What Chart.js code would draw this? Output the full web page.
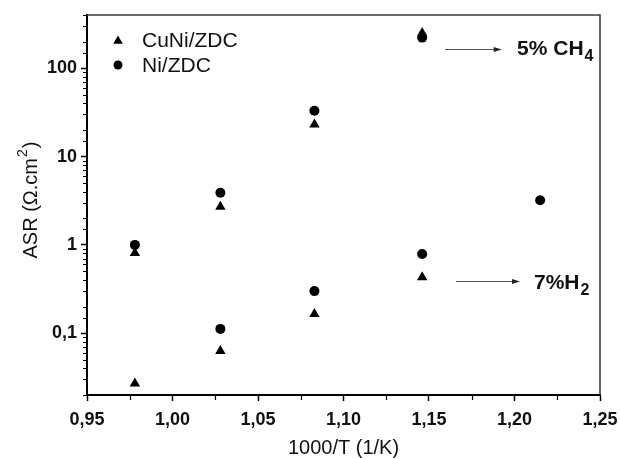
<!DOCTYPE html>
<html>
<head>
<meta charset="utf-8">
<script src="https://cdn.jsdelivr.net/npm/chart.js@4"></script>
<style>
  html, body { margin: 0; padding: 0; background: #fff; }
  canvas { display: block; }
</style>
</head>
<body>
<canvas id="asrChart" width="620" height="459"></canvas>
<script>
// --- données ---
const seriesNames = ['CuNi/ZDC', 'Ni/ZDC'];

// 5% CH4
const cuniCh4X = [0.978, 1.028, 1.083, 1.146];
const cuniCh4Y = [0.81, 2.7, 23, 250];
const niCh4X = [0.978, 1.028, 1.083, 1.146, 1.215];
const niCh4Y = [1.0, 3.9, 33, 222, 3.2];

// 7% H2
const cuniH2X = [0.978, 1.028, 1.083, 1.146];
const cuniH2Y = [0.027, 0.063, 0.165, 0.43];
const niH2X = [1.028, 1.083, 1.146];
const niH2Y = [0.112, 0.30, 0.79];

const xTicks = [0.95, 1.00, 1.05, 1.10, 1.15, 1.20, 1.25];
const yLabelled = [0.1, 1, 10, 100];

// annotations (texte + flèche), en coordonnées des axes
const notes = [
  { text: '5% CH', sub: '4', from: [1.1594, 167], to: [1.1925, 167], at: [1.2015, 167], dy: 6.5 },
  { text: '7%H', sub: '2', from: [1.1658, 0.392], to: [1.2032, 0.392], at: [1.2114, 0.392], dy: 8.5 }
];

const toPoints = (xs, ys) => xs.map((x, i) => ({ x: x, y: ys[i] }));

const FONT = "'Liberation Sans', Arial, sans-serif";
const isDecade = v => Math.abs(Math.log10(v) - Math.round(Math.log10(v))) < 1e-6;

const extras = {
  id: 'extras',
  afterDraw(chart) {
    const { ctx, chartArea: a, scales: { x, y } } = chart;
    ctx.save();

    // cadre haut / droite
    ctx.strokeStyle = '#3a3a3a';
    ctx.lineWidth = 1.5;
    ctx.beginPath();
    ctx.moveTo(a.left, a.top);
    ctx.lineTo(a.right, a.top);
    ctx.lineTo(a.right, a.bottom);
    ctx.stroke();

    // petites graduations
    ctx.strokeStyle = '#000';
    ctx.lineWidth = 1.2;
    ctx.beginPath();
    y.ticks.forEach(t => {
      if (isDecade(t.value)) return;
      const py = Math.round(y.getPixelForValue(t.value)) + 0.5;
      ctx.moveTo(a.left - 4, py);
      ctx.lineTo(a.left, py);
    });
    x.ticks.forEach(t => {
      const v = t.value + 0.025;
      if (v > x.max) return;
      const px = Math.round(x.getPixelForValue(v)) + 0.5;
      ctx.moveTo(px, a.bottom);
      ctx.lineTo(px, a.bottom + 5);
    });
    ctx.stroke();

    // titres des axes
    ctx.fillStyle = '#111';
    ctx.font = '20px ' + FONT;
    ctx.textAlign = 'center';
    ctx.textBaseline = 'alphabetic';
    ctx.fillText('1000/T (1/K)', (a.left + a.right) / 2, 454);

    ctx.save();
    ctx.translate(37, (a.top + a.bottom) / 2 - 4);
    ctx.rotate(-Math.PI / 2);
    ctx.textAlign = 'left';
    const part1 = 'ASR (\u03A9.cm', sup = '2', part2 = ')';
    ctx.font = '20px ' + FONT;
    const w1 = ctx.measureText(part1).width, w3 = ctx.measureText(part2).width;
    ctx.font = '14px ' + FONT;
    const w2 = ctx.measureText(sup).width;
    let sx = -(w1 + w2 + w3) / 2;
    ctx.font = '20px ' + FONT;
    ctx.fillText(part1, sx, 0);
    ctx.font = '14px ' + FONT;
    ctx.fillText(sup, sx + w1 + 1, -10);
    ctx.font = '20px ' + FONT;
    ctx.fillText(part2, sx + w1 + w2 + 2, 0);
    ctx.restore();

    // légende
    const ds = chart.data.datasets;
    ds.forEach((d, i) => {
      const lx = a.left + 31, ly = a.top + 25 + i * 25;
      ctx.fillStyle = '#000';
      Chart.helpers.drawPoint(ctx, { pointStyle: d.pointStyle, radius: d.pointStyle === 'triangle' ? 5.5 : 4.5, rotation: 0 }, lx, ly + (d.pointStyle === 'triangle' ? 1 : 0));
      ctx.fillStyle = '#111';
      ctx.font = '21px ' + FONT;
      ctx.textAlign = 'left';
      ctx.textBaseline = 'middle';
      ctx.fillText(d.label, lx + 24, ly + 1);
    });

    // annotations
    notes.forEach(n => {
      const x1 = x.getPixelForValue(n.from[0]), x2 = x.getPixelForValue(n.to[0]);
      const ay = Math.round(y.getPixelForValue(n.from[1])) + 0.5;
      ctx.strokeStyle = '#555';
      ctx.lineWidth = 1;
      ctx.beginPath();
      ctx.moveTo(x1, ay);
      ctx.lineTo(x2 - 5, ay);
      ctx.stroke();
      ctx.fillStyle = '#222';
      ctx.beginPath();
      ctx.moveTo(x2, ay);
      ctx.lineTo(x2 - 8, ay - 2.5);
      ctx.lineTo(x2 - 8, ay + 2.5);
      ctx.closePath();
      ctx.fill();

      const tx = x.getPixelForValue(n.at[0]);
      const ty = y.getPixelForValue(n.at[1]) + n.dy;
      ctx.fillStyle = '#111';
      ctx.textAlign = 'left';
      ctx.textBaseline = 'alphabetic';
      ctx.font = 'bold 21px ' + FONT;
      ctx.fillText(n.text, tx, ty);
      const w = ctx.measureText(n.text).width;
      ctx.font = 'bold 16px ' + FONT;
      ctx.fillText(n.sub, tx + w + 1, ty + 6);
    });

    ctx.restore();
  }
};

const ctx = document.getElementById('asrChart').getContext('2d');
new Chart(ctx, {
  type: 'scatter',
  data: {
    datasets: [
      {
        label: seriesNames[0],
        data: toPoints(cuniCh4X, cuniCh4Y).concat(toPoints(cuniH2X, cuniH2Y)),
        pointStyle: 'triangle',
        pointRadius: 6,
        backgroundColor: '#000',
        borderWidth: 0
      },
      {
        label: seriesNames[1],
        data: toPoints(niCh4X, niCh4Y).concat(toPoints(niH2X, niH2Y)),
        pointStyle: 'circle',
        pointRadius: 5,
        backgroundColor: '#000',
        borderWidth: 0
      }
    ]
  },
  options: {
    responsive: false,
    animation: false,
    layout: { padding: { top: 15, right: 20, left: 0, bottom: 0 } },
    plugins: { legend: { display: false }, tooltip: { enabled: false } },
    scales: {
      x: {
        type: 'linear',
        min: xTicks[0],
        max: xTicks[xTicks.length - 1],
        afterBuildTicks: s => { s.ticks = xTicks.map(v => ({ value: v })); },
        afterFit: s => { s.height = 64; s.paddingLeft = 0; s.paddingRight = 0; },
        ticks: {
          padding: 8,
          color: '#111',
          font: { family: FONT, size: 18, weight: 'bold' },
          callback: v => v.toFixed(2).replace('.', ','),
          maxRotation: 0
        },
        grid: { drawOnChartArea: false, drawTicks: true, tickLength: 6, tickWidth: 1.5, tickColor: '#000' },
        border: { display: true, color: '#000', width: 2 }
      },
      y: {
        type: 'logarithmic',
        min: 0.02,
        max: 400,
        afterFit: s => { s.width = 87; s.paddingTop = 0; s.paddingBottom = 0; },
        ticks: {
          autoSkip: false,
          padding: 4,
          color: '#111',
          font: { family: FONT, size: 18, weight: 'bold' },
          callback: v => {
            if (!yLabelled.some(l => Math.abs(l - v) < 1e-9)) return '';
            return String(v).replace('.', ',');
          }
        },
        grid: {
          drawOnChartArea: false,
          drawTicks: true,
          tickLength: 6,
          tickWidth: 1.5,
          tickColor: c => (c.tick && isDecade(c.tick.value)) ? '#000' : 'rgba(0,0,0,0)'
        },
        border: { display: true, color: '#000', width: 2 }
      }
    }
  },
  plugins: [extras]
});
</script>
</body>
</html>
